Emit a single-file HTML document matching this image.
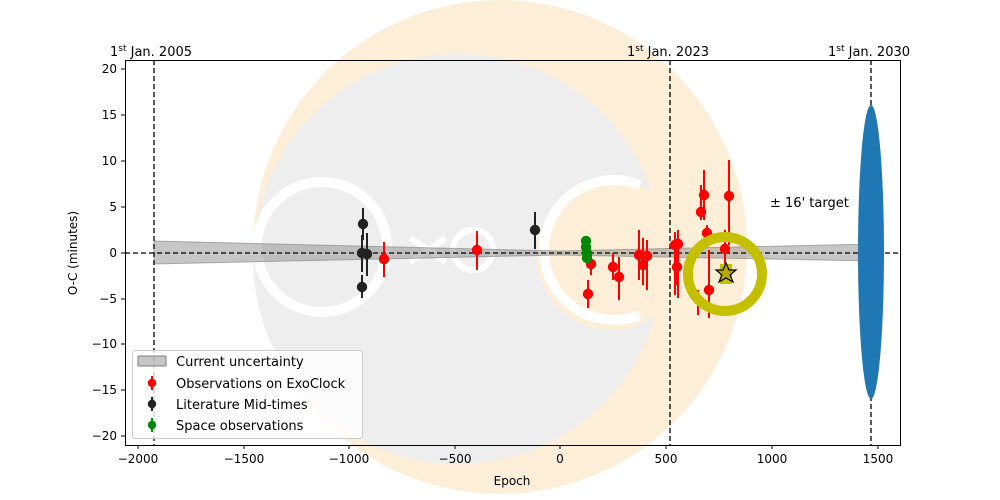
<!DOCTYPE html><html><head><style>body{margin:0;background:#fff}svg{display:block;font-family:"DejaVu Sans","Liberation Sans",sans-serif}</style></head><body>
<svg width="1000" height="500" viewBox="0 0 1000 500">
<circle cx="500" cy="247" r="247" fill="#fdeed8"/>
<circle cx="458" cy="259" r="205" fill="#eeeeee"/>
<circle cx="612" cy="255" r="75" fill="#fdeed8"/>
<g fill="none" stroke="#fff" stroke-width="10">
<circle cx="322" cy="247" r="65"/>
<path d="M410 238 Q430 250 445 262 M410 262 Q430 250 445 238" stroke-width="6"/>
<circle cx="473" cy="250" r="20" stroke-width="6"/>
<path d="M640 185 A70 70 0 1 0 640 315"/>
</g>
<rect x="125.5" y="60.5" width="775" height="385" fill="none" stroke="#000"/>
<polygon points="154,241 560,251 871,244 871,261 560,255 154,264" fill="#808080" fill-opacity="0.45" stroke="#808080" stroke-opacity="0.6"/>
<g stroke="#000" stroke-dasharray="5,3" stroke-width="1.3">
<line x1="125" y1="253" x2="900" y2="253"/>
<line x1="154" y1="60" x2="154" y2="445"/>
<line x1="670" y1="60" x2="670" y2="445"/>
<line x1="871" y1="60" x2="871" y2="445"/>
</g>
<ellipse cx="871" cy="252" rx="13" ry="147" fill="#1f77b4"/>
<g stroke-width="2">
<g stroke="#222" fill="#222">
<line x1="363" y1="208" x2="363" y2="240"/><circle cx="363" cy="224" r="4.2"/>
<line x1="362" y1="235" x2="362" y2="272"/><circle cx="362" cy="253" r="4.2"/>
<line x1="367" y1="233" x2="367" y2="276"/><circle cx="367" cy="254" r="4.2"/>
<line x1="362" y1="275" x2="362" y2="298"/><circle cx="362" cy="287" r="4.2"/>
<line x1="535" y1="212" x2="535" y2="249"/><circle cx="535" cy="230" r="4.2"/>
</g>
<g stroke="#f00" fill="#f00">
<line x1="384" y1="242" x2="384" y2="277"/><circle cx="384" cy="259" r="4.2"/>
<line x1="477" y1="231" x2="477" y2="270"/><circle cx="477" cy="250" r="4.2"/>
<line x1="588" y1="280" x2="588" y2="308"/><circle cx="588" cy="294" r="4.2"/>
<line x1="591" y1="255" x2="591" y2="275"/><circle cx="591" cy="264" r="4.2"/>
<line x1="613" y1="253" x2="613" y2="280"/><circle cx="613" cy="267" r="4.2"/>
<line x1="619" y1="257" x2="619" y2="300"/><circle cx="619" cy="277" r="4.2"/>
<line x1="639" y1="230" x2="639" y2="280"/><circle cx="639" cy="255" r="4.2"/>
<line x1="643" y1="238" x2="643" y2="285"/><circle cx="643" cy="265" r="4.2"/>
<line x1="647" y1="240" x2="647" y2="290"/><circle cx="647" cy="256" r="4.2"/>
<line x1="675" y1="232" x2="675" y2="295"/><circle cx="675" cy="245" r="4.2"/>
<line x1="678" y1="230" x2="678" y2="298"/><circle cx="678" cy="244" r="4.2"/>
<line x1="677" y1="250" x2="677" y2="285"/><circle cx="677" cy="267" r="4.2"/>
<line x1="701" y1="185" x2="701" y2="220"/><circle cx="701" cy="212" r="4.2"/>
<line x1="704" y1="170" x2="704" y2="220"/><circle cx="704" cy="195" r="4.2"/>
<line x1="707" y1="225" x2="707" y2="245"/><circle cx="707" cy="233" r="4.2"/>
<line x1="709" y1="250" x2="709" y2="318"/><circle cx="709" cy="290" r="4.2"/>
<line x1="698" y1="290" x2="698" y2="315"/>
<line x1="725" y1="230" x2="725" y2="265"/><circle cx="725" cy="249" r="4.2"/>
<line x1="729" y1="160" x2="729" y2="245"/><circle cx="729" cy="196" r="4.2"/>
</g>
<g fill="#080" stroke="#080">
<circle cx="586" cy="241" r="4.2"/><circle cx="586" cy="247" r="4.2"/><circle cx="587" cy="253" r="4.2"/><circle cx="587" cy="258" r="4.2"/>
</g>
</g>
<circle cx="725" cy="274" r="37" fill="none" stroke="#c4c000" stroke-width="10"/>
<rect x="720" y="264" width="12" height="20" fill="#c4c000"/>
<polygon points="726,263 729,270 736,270 730,275 733,282 726,278 719,282 722,275 716,270 723,270" fill="#b8a800" stroke="#000" stroke-width="1.2"/>
<g font-size="13" fill="#000">
<text x="770" y="207">± 16' target</text>
<text x="110" y="56">1<tspan font-size="9" dy="-5">st</tspan><tspan dy="5"> Jan. 2005</tspan></text>
<text x="627" y="56">1<tspan font-size="9" dy="-5">st</tspan><tspan dy="5"> Jan. 2023</tspan></text>
<text x="828" y="56">1<tspan font-size="9" dy="-5">st</tspan><tspan dy="5"> Jan. 2030</tspan></text>
</g>
<g font-size="12" text-anchor="end" fill="#000">
<text x="117" y="73">20</text><text x="117" y="119">15</text><text x="117" y="165">10</text><text x="117" y="211">5</text><text x="117" y="257">0</text><text x="117" y="303">−5</text><text x="117" y="348">−10</text><text x="117" y="394">−15</text><text x="117" y="440">−20</text>
</g>
<g stroke="#000"><line x1="121" y1="69" x2="125" y2="69"/><line x1="121" y1="115" x2="125" y2="115"/><line x1="121" y1="161" x2="125" y2="161"/><line x1="121" y1="207" x2="125" y2="207"/><line x1="121" y1="253" x2="125" y2="253"/><line x1="121" y1="299" x2="125" y2="299"/><line x1="121" y1="344" x2="125" y2="344"/><line x1="121" y1="390" x2="125" y2="390"/><line x1="121" y1="436" x2="125" y2="436"/>
<line x1="138" y1="445" x2="138" y2="449"/><line x1="244" y1="445" x2="244" y2="449"/><line x1="349" y1="445" x2="349" y2="449"/><line x1="455" y1="445" x2="455" y2="449"/><line x1="560" y1="445" x2="560" y2="449"/><line x1="666" y1="445" x2="666" y2="449"/><line x1="772" y1="445" x2="772" y2="449"/><line x1="878" y1="445" x2="878" y2="449"/></g>
<g font-size="12" text-anchor="middle" fill="#000">
<text x="138" y="463">−2000</text><text x="244" y="463">−1500</text><text x="349" y="463">−1000</text><text x="455" y="463">−500</text><text x="560" y="463">0</text><text x="666" y="463">500</text><text x="772" y="463">1000</text><text x="878" y="463">1500</text>
<text x="512" y="485">Epoch</text>
<text transform="translate(77,253) rotate(-90)">O-C (minutes)</text>
</g>
<rect x="132.5" y="350.5" width="230" height="88" rx="3" fill="#fff" fill-opacity="0.8" stroke="#ccc"/>
<g font-size="13" fill="#000">
<rect x="138" y="356" width="28" height="10" fill="#808080" fill-opacity="0.45" stroke="#808080"/>
<text x="176" y="366">Current uncertainty</text>
<line x1="152" y1="376" x2="152" y2="390" stroke="#f00" stroke-width="2"/><circle cx="152" cy="383" r="4.2" fill="#f00"/><text x="176" y="388">Observations on ExoClock</text>
<line x1="152" y1="397" x2="152" y2="411" stroke="#222" stroke-width="2"/><circle cx="152" cy="404" r="4.2" fill="#222"/><text x="176" y="409">Literature Mid-times</text>
<line x1="152" y1="418" x2="152" y2="432" stroke="#080" stroke-width="2"/><circle cx="152" cy="425" r="4.2" fill="#080"/><text x="176" y="430">Space observations</text>
</g>
</svg></body></html>
